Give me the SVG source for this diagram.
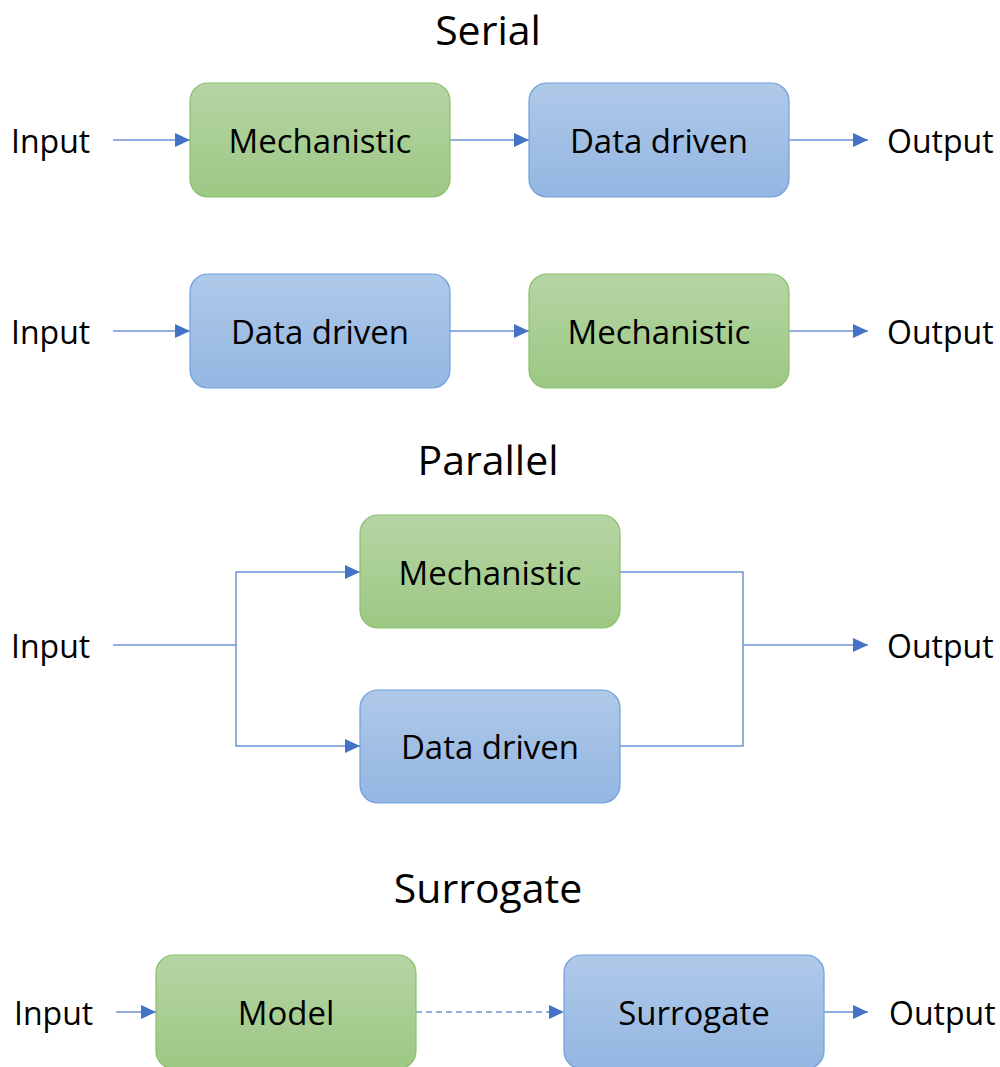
<svg xmlns="http://www.w3.org/2000/svg" width="1000" height="1067" viewBox="0 0 1000 1067">
<style>
.t{font-family:"Open Sans","Liberation Sans",sans-serif;fill:#000;}
.title{font-size:41px;text-anchor:middle;}
.lbl{font-size:32px;}
.nl{font-size:33px;text-anchor:middle;}
.g{fill:url(#gg);stroke:#8cbf6c;stroke-width:1.2;}
.b{fill:url(#bg);stroke:#6f9fdc;stroke-width:1.2;}
.c{fill:none;stroke:#6f93d3;stroke-width:1.5;}
.a{marker-end:url(#arr);}
.d{stroke-dasharray:6,4;}
</style>
<defs>
<linearGradient id="gg" x1="0" y1="0" x2="0" y2="1">
<stop offset="0" stop-color="#b5d5a4"/>
<stop offset="1" stop-color="#9dc883"/>
</linearGradient>
<linearGradient id="bg" x1="0" y1="0" x2="0" y2="1">
<stop offset="0" stop-color="#afc9e9"/>
<stop offset="1" stop-color="#94b6e1"/>
</linearGradient>
<marker id="arr" markerWidth="16" markerHeight="14" refX="15" refY="7" orient="auto" markerUnits="userSpaceOnUse">
<path d="M0,0 L15,7 L0,14 Z" fill="#4472c4"/>
</marker>
</defs>

<g id="titles">
<text class="t title" x="488" y="45">Serial</text>
<text class="t title" x="488" y="475">Parallel</text>
<text class="t title" x="488" y="903">Surrogate</text>
</g>

<g id="connectors">
<path class="c a" d="M113,140 H190"/>
<path class="c a" d="M450,140 H529"/>
<path class="c a" d="M789,140 H868"/>
<path class="c a" d="M113,331 H190"/>
<path class="c a" d="M450,331 H529"/>
<path class="c a" d="M789,331 H868"/>
<path class="c" d="M113,645 H236"/>
<path class="c a" d="M236,645 V572 H360"/>
<path class="c a" d="M236,645 V746 H360"/>
<path class="c" d="M620,572 H743 V746 H620"/>
<path class="c a" d="M743,645 H868"/>
<path class="c a" d="M116,1012 H156"/>
<path class="c d a" d="M416,1012 H564"/>
<path class="c a" d="M824,1012 H868"/>
</g>

<g id="labels">
<text class="t lbl" x="11" y="153">Input</text>
<text class="t lbl" x="887" y="153">Output</text>
<text class="t lbl" x="11" y="344">Input</text>
<text class="t lbl" x="887" y="344">Output</text>
<text class="t lbl" x="11" y="658">Input</text>
<text class="t lbl" x="887" y="658">Output</text>
<text class="t lbl" x="14" y="1025">Input</text>
<text class="t lbl" x="889" y="1025">Output</text>
</g>

<g id="s1-mech"><rect class="g" x="190" y="83" width="260" height="114" rx="18"/><text class="t nl" x="320" y="153">Mechanistic</text></g>
<g id="s1-data"><rect class="b" x="529" y="83" width="260" height="114" rx="18"/><text class="t nl" x="659" y="153">Data driven</text></g>
<g id="s2-data"><rect class="b" x="190" y="274" width="260" height="114" rx="18"/><text class="t nl" x="320" y="344">Data driven</text></g>
<g id="s2-mech"><rect class="g" x="529" y="274" width="260" height="114" rx="18"/><text class="t nl" x="659" y="344">Mechanistic</text></g>
<g id="p-mech"><rect class="g" x="360" y="515" width="260" height="113" rx="18"/><text class="t nl" x="490" y="585">Mechanistic</text></g>
<g id="p-data"><rect class="b" x="360" y="690" width="260" height="113" rx="18"/><text class="t nl" x="490" y="759">Data driven</text></g>
<g id="su-model"><rect class="g" x="156" y="955" width="260" height="114" rx="18"/><text class="t nl" x="286" y="1025">Model</text></g>
<g id="su-surr"><rect class="b" x="564" y="955" width="260" height="114" rx="18"/><text class="t nl" x="694" y="1025">Surrogate</text></g>
</svg>
